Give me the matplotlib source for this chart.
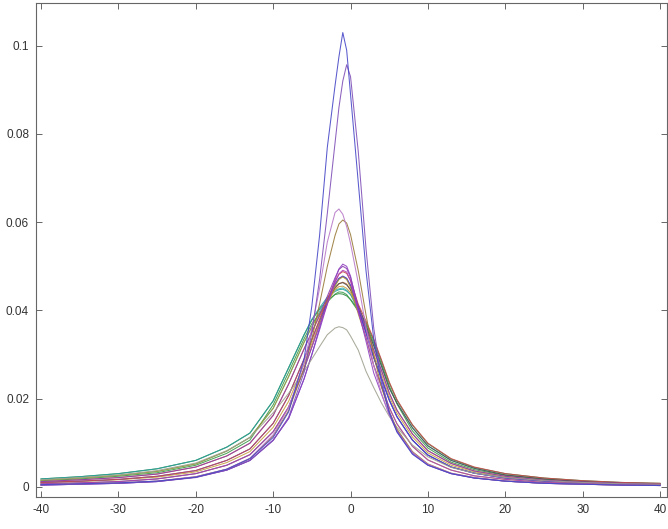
"""Overlay of peaked density curves, MATLAB-style axes."""

import matplotlib

matplotlib.use("Agg")
import matplotlib.pyplot as plt

plt.rcParams["font.family"] = ["Liberation Sans", "DejaVu Sans"]
plt.rcParams["axes.unicode_minus"] = False

# shared sample positions
X = [-40, -35, -30, -25, -20, -16, -13, -10, -8, -6, -5, -4, -3, -2, -1.5, -1, -0.5,
     0, 1, 2, 3, 4, 5, 6, 8, 10, 13, 16, 20, 25, 30, 35, 40]

# the main bunch (peaks around 0.043 - 0.051)
b01 = [.0018, .0023, .0030, .0041, .0060, .0090, .0122, .0195, .0270, .0345, .0378, .0403, .0423, .0436, .0438, .0437, .0433,
       .0425, .0402, .0372, .0332, .0285, .0236, .0196, .0140, .0098, .0063, .0044, .0030, .0020, .0014, .0010, .0008]
b02 = [.0015, .0020, .0026, .0035, .0052, .0081, .0112, .0178, .0250, .0328, .0363, .0398, .0428, .0446, .0449, .0451, .0446,
       .0436, .0409, .0364, .0320, .0274, .0224, .0190, .0134, .0093, .0060, .0042, .0027, .0018, .0012, .0009, .0007]
b03 = [.0012, .0016, .0021, .0029, .0045, .0070, .0099, .0162, .0233, .0313, .0351, .0387, .0418, .0450, .0460, .0464, .0460,
       .0446, .0398, .0360, .0310, .0264, .0213, .0174, .0120, .0082, .0053, .0036, .0024, .0015, .0011, .0008, .0006]
b04 = [.0010, .0013, .0017, .0024, .0037, .0060, .0086, .0144, .0207, .0290, .0334, .0377, .0422, .0458, .0472, .0478, .0473,
       .0457, .0406, .0350, .0293, .0246, .0197, .0159, .0106, .0072, .0045, .0031, .0020, .0013, .0009, .0006, .0005]
b05 = [.0007, .0009, .0012, .0018, .0030, .0049, .0073, .0125, .0181, .0268, .0317, .0366, .0414, .0463, .0483, .0491, .0487,
       .0467, .0396, .0340, .0275, .0228, .0180, .0143, .0092, .0061, .0038, .0025, .0017, .0010, .0008, .0005, .0004]
b06 = [.0004, .0006, .0008, .0012, .0022, .0038, .0060, .0106, .0155, .0245, .0300, .0356, .0415, .0470, .0494, .0505, .0500,
       .0478, .0400, .0330, .0258, .0210, .0164, .0128, .0078, .0050, .0030, .0020, .0013, .0008, .0006, .0004, .0003]
b07 = [.0015, .0020, .0026, .0035, .0052, .0081, .0112, .0178, .0250, .0328, .0363, .0394, .0420, .0455, .0470, .0476, .0470,
       .0452, .0392, .0338, .0275, .0228, .0180, .0143, .0092, .0061, .0038, .0025, .0017, .0010, .0008, .0005, .0004]
b08 = [.0007, .0009, .0012, .0018, .0030, .0049, .0073, .0125, .0181, .0268, .0317, .0370, .0420, .0452, .0461, .0463, .0458,
       .0447, .0412, .0364, .0320, .0274, .0224, .0190, .0134, .0093, .0060, .0042, .0027, .0018, .0012, .0009, .0007]
b09 = [.0018, .0023, .0030, .0041, .0060, .0090, .0122, .0195, .0270, .0345, .0380, .0406, .0430, .0443, .0447, .0448, .0444,
       .0436, .0400, .0350, .0293, .0246, .0197, .0159, .0106, .0072, .0045, .0031, .0020, .0013, .0009, .0006, .0005]
b10 = [.0010, .0013, .0017, .0024, .0037, .0060, .0086, .0144, .0207, .0290, .0334, .0380, .0426, .0466, .0482, .0488, .0484,
       .0468, .0414, .0376, .0335, .0288, .0238, .0198, .0141, .0099, .0064, .0045, .0030, .0020, .0014, .0010, .0008]
b11 = [.0012, .0016, .0021, .0029, .0045, .0070, .0099, .0162, .0233, .0313, .0351, .0390, .0432, .0474, .0493, .0500, .0495,
       .0475, .0408, .0360, .0310, .0264, .0213, .0174, .0120, .0082, .0053, .0036, .0024, .0015, .0011, .0008, .0006]
b12 = [.0004, .0006, .0008, .0012, .0022, .0038, .0060, .0106, .0155, .0245, .0300, .0360, .0424, .0460, .0473, .0477, .0472,
       .0456, .0402, .0350, .0293, .0246, .0197, .0159, .0106, .0072, .0045, .0031, .0020, .0013, .0009, .0006, .0005]
b13 = [.0014, .0018, .0024, .0032, .0049, .0076, .0106, .0186, .0260, .0336, .0370, .0392, .0419, .0437, .0442, .0441, .0436,
       .0424, .0398, .0368, .0326, .0279, .0229, .0188, .0127, .0088, .0056, .0039, .0026, .0017, .0012, .0008, .0007]
b14 = [.0009, .0012, .0016, .0022, .0034, .0055, .0080, .0135, .0194, .0279, .0325, .0372, .0420, .0447, .0454, .0455, .0450,
       .0440, .0404, .0355, .0301, .0255, .0205, .0167, .0113, .0077, .0049, .0034, .0022, .0014, .0010, .0007, .0006]

# the outliers
tall1 = [.0005, .0007, .0009, .0013, .0022, .0040, .0064, .0112, .0170, .0290, .0410, .0570, .0770, .0910, .0975, .1030, .0990,
         .0890, .0690, .0490, .0335, .0235, .0168, .0124, .0074, .0049, .0030, .0020, .0013, .0008, .0006, .0004, .0003]
tall2 = [.0004, .0006, .0008, .0012, .0021, .0038, .0060, .0105, .0158, .0260, .0350, .0470, .0620, .0780, .0860, .0920, .0957,
         .0930, .0760, .0540, .0360, .0245, .0172, .0126, .0075, .0049, .0030, .0020, .0013, .0008, .0006, .0004, .0003]
mid1 = [.0005, .0007, .0009, .0013, .0023, .0040, .0065, .0118, .0180, .0280, .0360, .0450, .0555, .0622, .0630, .0618, .0590,
        .0552, .0462, .0362, .0275, .0212, .0163, .0126, .0078, .0051, .0031, .0021, .0013, .0008, .0006, .0004, .0003]
mid2 = [.0005, .0007, .0009, .0013, .0023, .0040, .0064, .0115, .0173, .0268, .0335, .0415, .0500, .0570, .0596, .0605, .0598,
        .0572, .0490, .0390, .0298, .0226, .0171, .0131, .0080, .0052, .0031, .0021, .0013, .0008, .0006, .0004, .0003]
low1 = [.0016, .0021, .0027, .0037, .0054, .0082, .0112, .0168, .0212, .0262, .0290, .0318, .0345, .0360, .0363, .0361, .0356,
        .0342, .0310, .0262, .0225, .0190, .0160, .0135, .0095, .0068, .0044, .0031, .0021, .0014, .0010, .0007, .0006]

SERIES = [b01, b02, b13, b09, b03, b08, b14, b04, b12, b07, b10, b05, b11, b06, low1, mid2, mid1, tall2, tall1]
COLORS = ["#2f8a3c", "#3fb4b4", "#3c9a4a", "#2aa0a0", "#d2703a", "#505050", "#c8a040", "#4040d0",
          "#5a3ac8", "#a89a30", "#c84a4a", "#b040b8", "#8a3cb0", "#9040c0", "#a0a090", "#9a7a3a",
          "#b878c8", "#8050b8", "#4848c8"]

fig = plt.figure(figsize=(6.68, 5.29), dpi=100)
ax = fig.add_axes([36 / 668, 32 / 529, 631 / 668, 494 / 529])

for y, color in zip(SERIES, COLORS):
    ax.plot(X, y, color=color, linewidth=0.75, alpha=0.9)

ax.set_xlim(-40.65, 40.9)
ax.set_ylim(-0.0023, 0.1097)
ax.set_xticks(range(-40, 41, 10))
ax.set_yticks([0, 0.02, 0.04, 0.06, 0.08, 0.1])
ax.set_yticklabels(["0", "0.02", "0.04", "0.06", "0.08", "0.1"])

for side in ax.spines.values():
    side.set_color("#666666")
    side.set_linewidth(0.8)
ax.tick_params(direction="in", length=4, width=0.7, colors="#666666", labelcolor="#333333",
               labelsize=8.5, top=True, right=True, pad=5)

fig.savefig("out.png", dpi=100)
